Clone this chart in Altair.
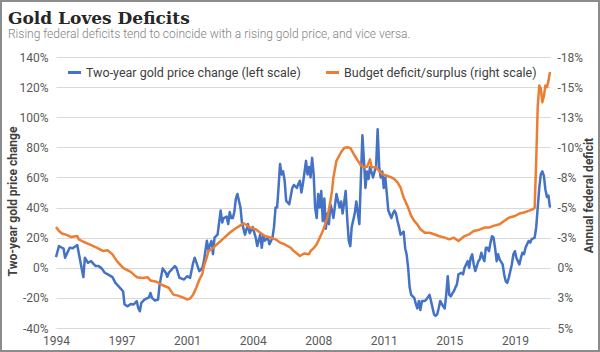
import altair as alt
import pandas as pd

title_text = "Gold Loves Deficits"
subtitle_text = "Rising federal deficits tend to coincide with a rising gold price, and vice versa."
series_names = ["Two-year gold price change (left scale)", "Budget deficit/surplus (right scale)"]
series_colors = ["#4472C4", "#ED7D31"]

gold_months = [
 "1994-01","1994-03","1994-05","1994-06","1994-07","1994-10","1994-12","1995-03","1995-05","1995-07",
 "1995-08","1995-10","1995-12","1996-03","1996-05","1996-07","1996-09","1996-11","1997-02","1997-04",
 "1997-06","1997-07","1997-09","1997-10","1997-12","1998-02","1998-04","1998-06","1998-07","1998-08",
 "1998-09","1998-11","1999-02","1999-03","1999-04","1999-06","1999-08","1999-09","1999-11","2000-01",
 "2000-02","2000-03","2000-05","2000-07","2000-08","2000-10","2001-01","2001-03","2001-05","2001-07",
 "2001-08","2001-11","2002-01","2002-02","2002-04","2002-05","2002-07","2002-08","2002-09","2002-11",
 "2002-12","2003-01","2003-02","2003-03","2003-05","2003-06","2003-07","2003-08","2003-09","2003-10",
 "2003-11","2003-12","2004-02","2004-03","2004-05","2004-07","2004-08","2004-10","2004-12","2005-01",
 "2005-03","2005-04","2005-05","2005-06","2005-08","2005-09","2005-11","2005-12","2006-01","2006-02",
 "2006-03","2006-04","2006-05","2006-06","2006-07","2006-08","2006-10","2006-12","2007-01","2007-03",
 "2007-04","2007-05","2007-06","2007-07","2007-09","2007-10","2007-11","2007-12","2008-01","2008-02",
 "2008-03","2008-04","2008-05","2008-06","2008-07","2008-08","2008-09","2008-10","2008-11","2008-12",
 "2009-01","2009-02","2009-03","2009-05","2009-07","2009-08","2009-09","2009-11","2009-12","2010-01",
 "2010-02","2010-03","2010-05","2010-06","2010-08","2010-09","2010-10","2010-11","2010-12","2011-01",
 "2011-02","2011-03","2011-05","2011-06","2011-07","2011-08","2011-09","2011-10","2011-11","2011-12",
 "2012-01","2012-02","2012-03","2012-05","2012-06","2012-07","2012-08","2012-09","2012-10","2012-11",
 "2013-01","2013-02","2013-03","2013-04","2013-05","2013-06","2013-08","2013-09","2013-10","2013-11",
 "2013-12","2014-01","2014-03","2014-04","2014-06","2014-07","2014-09","2014-10","2014-11","2014-12",
 "2015-01","2015-03","2015-04","2015-05","2015-06","2015-07","2015-08","2015-09","2015-10","2015-11",
 "2015-12","2016-01","2016-03","2016-04","2016-05","2016-06","2016-07","2016-08","2016-09","2016-10",
 "2016-11","2016-12","2017-02","2017-03","2017-04","2017-05","2017-06","2017-07","2017-08","2017-09",
 "2017-10","2017-11","2017-12","2018-01","2018-02","2018-03","2018-04","2018-06","2018-07","2018-08",
 "2018-09","2018-10","2018-11","2018-12","2019-01","2019-02","2019-03","2019-05","2019-06","2019-07",
 "2019-08","2019-09","2019-10","2019-11","2019-12","2020-01","2020-02","2020-03","2020-04","2020-05",
 "2020-06","2020-07","2020-08","2020-09","2020-10","2020-11","2020-12","2021-01"]
gold_change = [
 7.1,14.4,13.3,12.7,6.7,13.3,13.0,15.1,4.4,-6.2,
 6.7,3.3,4.4,1.1,1.1,-0.4,-3.3,-4.4,-6.2,-10.0,
 -12.2,-13.3,-15.6,-24.4,-25.6,-24.0,-24.4,-22.2,-26.7,-28.9,
 -23.3,-21.1,-19.6,-16.7,-20.0,-21.8,-21.1,-11.1,-0.4,-3.3,
 -6.0,-3.3,-1.1,1.1,0.0,-6.7,-7.8,-5.6,-6.7,3.3,
 6.7,-2.2,0.0,4.4,18.0,12.0,17.8,9.0,20.0,22.0,
 30.0,38.0,30.0,33.0,34.0,29.0,37.0,33.0,33.0,37.0,
 46.0,49.0,40.0,30.0,22.0,29.0,23.0,27.0,20.0,14.4,
 22.0,13.3,21.0,18.0,20.0,15.6,20.0,27.0,40.0,40.0,
 53.0,69.0,62.0,64.0,58.0,44.4,42.2,53.0,55.0,53.0,
 55.6,57.8,50.0,55.6,71.0,62.0,67.0,60.0,73.0,62.0,
 40.0,33.0,49.0,40.0,51.0,31.0,46.0,26.0,36.0,29.0,
 42.0,38.0,33.0,49.0,40.0,44.0,36.0,51.0,33.0,18.0,
 14.4,27.0,36.0,44.0,29.0,60.0,88.0,71.0,53.0,64.0,
 59.0,67.0,60.0,64.0,67.0,92.0,67.0,60.0,64.0,53.0,
 60.0,49.0,38.0,33.0,36.0,38.0,36.0,31.0,27.0,22.0,
 24.0,13.0,9.0,0.0,-13.0,-18.0,-20.0,-24.0,-27.0,-22.0,
 -28.0,-22.0,-22.0,-21.0,-18.0,-22.0,-31.0,-32.0,-31.0,-27.0,
 -22.0,-25.6,-27.0,-18.0,-5.6,-18.0,-19.0,-17.0,-15.6,-13.0,
 -11.0,-4.4,-3.3,-4.4,0.0,2.2,4.4,0.0,6.7,8.9,
 2.2,-2.2,4.4,5.6,10.0,6.7,4.4,13.3,13.3,11.0,
 16.7,21.0,20.0,13.0,4.4,9.0,5.6,2.2,-4.4,-9.0,
 -10.0,-6.7,-2.2,2.2,9.0,11.0,6.7,2.2,6.7,10.0,
 9.0,13.3,15.6,17.8,16.7,19.0,19.5,20.0,27.0,40.0,
 53.0,62.0,64.0,61.0,52.0,47.0,48.0,40.0]

budget_months = [
 "1994-01","1994-03","1994-05","1994-08","1994-11","1995-03","1995-04","1995-07","1995-11","1996-04",
 "1996-08","1996-11","1997-02","1997-05","1997-09","1998-02","1998-06","1998-10","1999-01","1999-03",
 "1999-07","1999-11","2000-03","2000-06","2000-09","2001-01","2001-03","2001-05","2001-07","2001-09",
 "2001-11","2002-01","2002-02","2002-04","2002-05","2002-07","2002-09","2002-11","2003-03","2003-07",
 "2003-10","2004-01","2004-04","2004-06","2004-08","2004-12","2005-03","2005-06","2005-10","2006-01",
 "2006-04","2006-07","2006-11","2007-01","2007-05","2007-08","2007-11","2007-12","2008-02","2008-04",
 "2008-06","2008-08","2008-11","2009-01","2009-02","2009-03","2009-05","2009-08","2009-10","2009-12",
 "2010-02","2010-05","2010-07","2010-09","2010-11","2011-01","2011-03","2011-04","2011-07","2011-09",
 "2011-11","2012-02","2012-05","2012-07","2012-09","2012-11","2013-01","2013-04","2013-06","2013-08",
 "2013-10","2013-12","2014-03","2014-06","2014-09","2014-12","2015-04","2015-07","2015-10","2016-01",
 "2016-05","2016-08","2016-11","2017-02","2017-06","2017-09","2017-12","2018-04","2018-07","2018-10",
 "2019-02","2019-05","2019-08","2019-11","2020-02","2020-03","2020-04","2020-05","2020-06","2020-07",
 "2020-08","2020-09","2020-10","2020-11","2020-12","2021-01"]
budget_balance = [
 -3.39,-3.05,-2.84,-2.73,-2.55,-2.64,-2.36,-2.16,-1.95,-1.66,
 -1.39,-1.45,-1.11,-0.55,0.0,0.34,0.78,0.84,0.78,1.05,
 1.16,1.45,1.66,2.23,2.31,2.5,2.63,2.56,2.23,1.66,
 1.0,0.5,-0.14,-0.88,-1.38,-1.56,-1.75,-2.0,-2.44,-2.91,
 -3.2,-3.44,-3.69,-3.55,-3.34,-3.2,-2.91,-2.64,-2.5,-2.36,
 -2.09,-1.95,-1.66,-1.39,-0.98,-1.19,-1.13,-1.39,-1.63,-1.95,
 -2.5,-3.05,-4.16,-5.55,-6.38,-7.5,-8.88,-9.59,-9.95,-10.0,
 -9.95,-9.3,-8.89,-8.48,-8.34,-8.38,-9.0,-8.34,-8.34,-8.05,
 -7.78,-7.64,-7.5,-7.36,-7.09,-6.66,-5.84,-5.0,-4.3,-3.89,
 -3.61,-3.2,-2.91,-2.91,-2.78,-2.64,-2.5,-2.36,-2.5,-2.23,
 -2.63,-2.78,-3.05,-3.13,-3.34,-3.34,-3.48,-3.61,-3.89,-4.16,
 -4.3,-4.5,-4.59,-4.73,-4.88,-5.0,-8.88,-13.38,-15.13,-14.88,
 -13.75,-14.25,-15.13,-15.0,-15.5,-16.25]

left_ticks = [-40, -20, 0, 20, 40, 60, 80, 100, 120, 140]
right_ticks = [5, 2.5, 0, -2.5, -5, -7.5, -10, -12.5, -15, -17.5]
x_tick_year_month = [(1994, 1), (1997, 8), (2001, 3), (2004, 10), (2008, 5), (2011, 12), (2015, 7), (2019, 2)]

gold_df = pd.DataFrame({"date": gold_months, "value": gold_change, "series": series_names[0]})
budget_df = pd.DataFrame({"date": budget_months, "value": budget_balance, "series": series_names[1]})

FONT = "Roboto"
W, H = 494, 271

x_enc = alt.X(
    "date:T",
    scale=alt.Scale(domain=[alt.DateTime(year=1994, month=1, date=1), alt.DateTime(year=2021, month=1, date=1)]),
    axis=alt.Axis(
        values=[alt.DateTime(year=y, month=m, date=1) for y, m in x_tick_year_month],
        format="%Y", title=None, grid=False, domain=False, ticks=False, tickSize=0,
        labelFlush=False, labelOverlap=False,
        labelPadding=7, labelFont=FONT, labelFontSize=12, labelColor="#595959",
    ),
)

color_enc = alt.Color(
    "series:N",
    scale=alt.Scale(domain=series_names, range=series_colors),
    legend=alt.Legend(
        title=None, orient="none", direction="horizontal", legendX=10, legendY=7,
        symbolType="stroke", symbolStrokeWidth=3, symbolSize=170, symbolOffset=0,
        labelFont=FONT, labelFontSize=12.5, labelColor="#404040", labelOffset=3,
        labelLimit=1000, columnPadding=18,
    ),
)

gold = alt.Chart(gold_df).mark_line(strokeWidth=2.5, strokeJoin="round").encode(
    x=x_enc,
    y=alt.Y(
        "value:Q",
        scale=alt.Scale(domain=[-40, 140], nice=False, zero=False),
        axis=alt.Axis(
            values=left_ticks, labelExpr="datum.value + '%'",
            title="Two-year gold price change", titleFont=FONT, titleFontSize=12,
            titleFontWeight="bold", titleColor="#404040", titleAngle=270,
            titleX=-44, titleY=144, titleBaseline="middle", titleAlign="center",
            grid=True, gridColor="#d9d9d9", gridWidth=1, domain=False, ticks=False, tickSize=0,
            labelPadding=8, labelFont=FONT, labelFontSize=12, labelColor="#595959",
        ),
    ),
    color=color_enc,
)

budget = alt.Chart(budget_df).mark_line(strokeWidth=2.5, strokeJoin="round").encode(
    x=x_enc,
    y=alt.Y(
        "value:Q",
        scale=alt.Scale(domain=[5, -17.5], nice=False, zero=False),
        axis=alt.Axis(
            orient="right", values=right_ticks,
            labelExpr="(datum.value < 0 ? '-' : '') + round(abs(datum.value)) + '%'",
            title="Annual federal deficit", titleFont=FONT, titleFontSize=12,
            titleFontWeight="bold", titleColor="#404040", titleAngle=270,
            titleX=38, titleY=138, titleBaseline="middle", titleAlign="center",
            grid=False, domain=False, ticks=False, tickSize=0,
            labelPadding=7, labelFont=FONT, labelFontSize=12, labelColor="#595959",
        ),
    ),
    color=color_enc,
)

one = pd.DataFrame({"t": [title_text], "s": [subtitle_text]})
title_mark = alt.Chart(one).mark_text(
    align="left", baseline="alphabetic", font="DejaVu Serif", fontSize=17,
    fontWeight="bold", color="#262626",
).encode(text="t:N", x=alt.value(-48), y=alt.value(-33))
subtitle_mark = alt.Chart(one).mark_text(
    align="left", baseline="alphabetic", font=FONT, fontSize=12,
    fontWeight=300, color="#7f7f7f",
).encode(text="s:N", x=alt.value(-48), y=alt.value(-19))
frame = alt.Chart(one).mark_rect(filled=False, stroke="#8c8c8c", strokeWidth=2).encode(
    x=alt.value(-55), x2=alt.value(W + 49), y=alt.value(-56), y2=alt.value(H + 23)
)

chart = alt.layer(gold, budget, title_mark, subtitle_mark, frame).resolve_scale(
    y="independent"
).properties(
    width=W, height=H,
    autosize=alt.AutoSizeParams(type="none"),
    padding={"left": 56, "top": 57, "right": 50, "bottom": 24},
    background="white",
).configure_view(stroke=None)

chart.save("out.html", embed_options={"renderer": "svg", "actions": False})
